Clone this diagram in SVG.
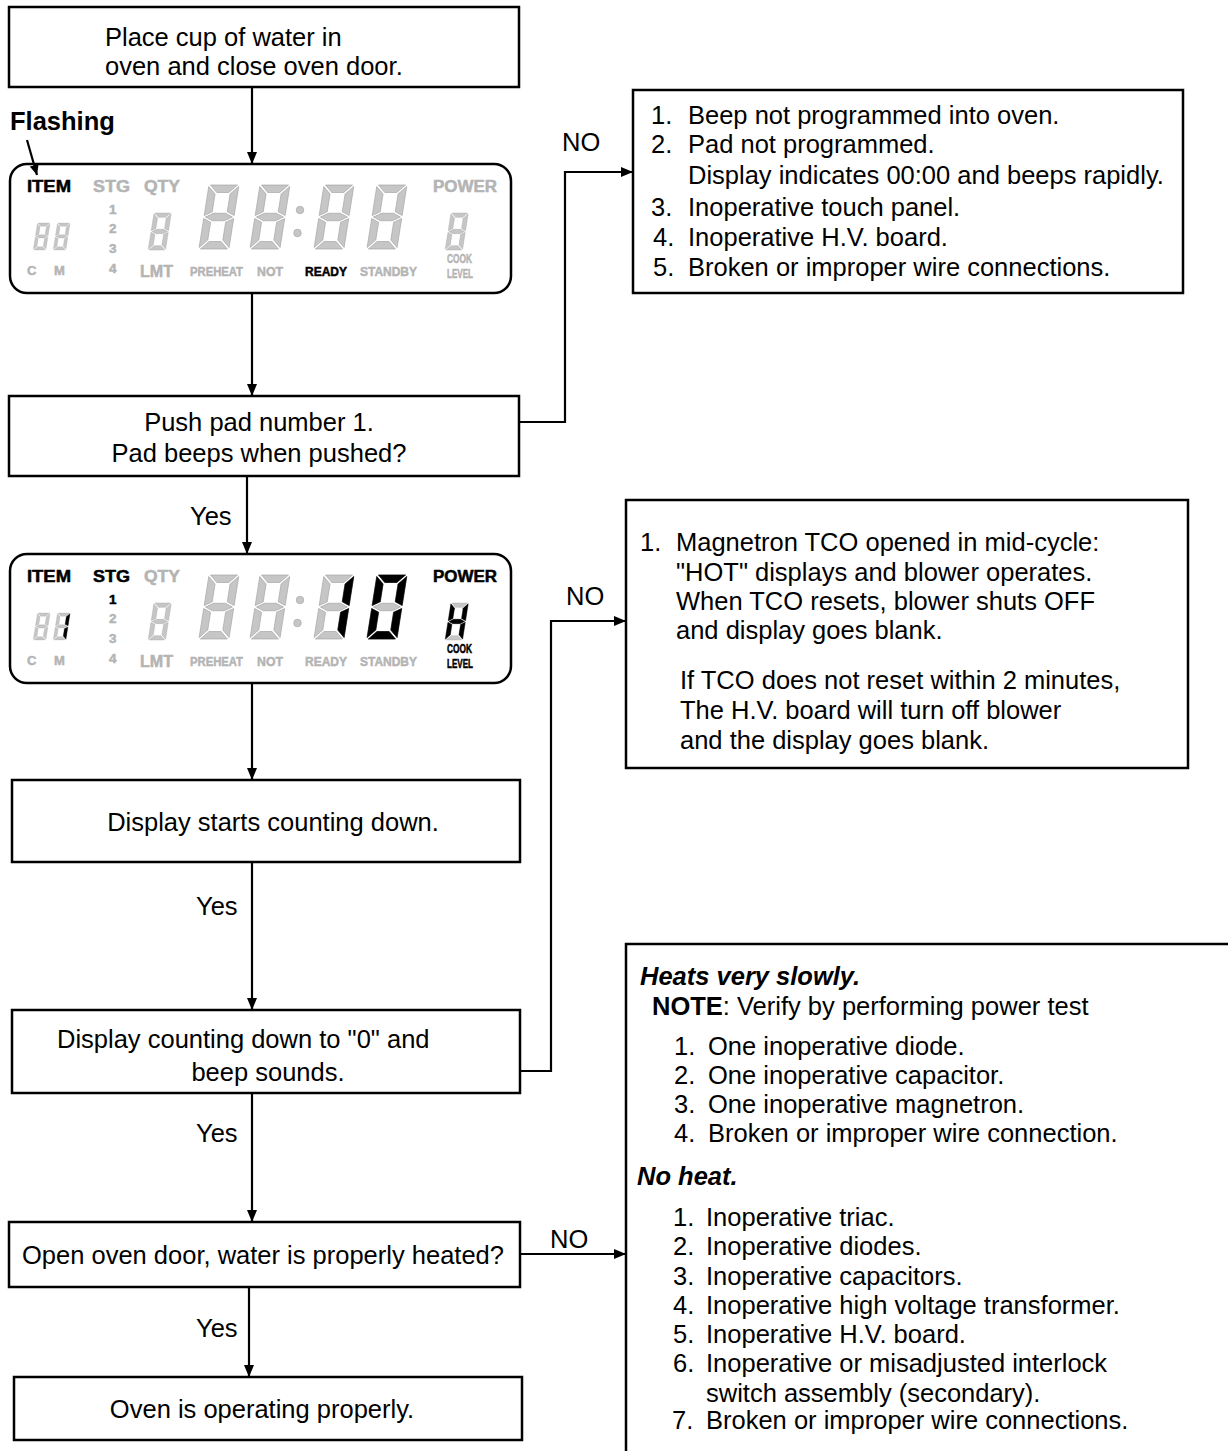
<svg xmlns="http://www.w3.org/2000/svg" xmlns:xlink="http://www.w3.org/1999/xlink" width="1228" height="1451" viewBox="0 0 1228 1451">
<style>
text{font-family:"Liberation Sans",Arial,Helvetica,sans-serif;fill:#000}
.t{font-size:25.5px}
.b{font-weight:bold}
.bi{font-weight:bold;font-style:italic}
.box{fill:#fff;stroke:#000;stroke-width:2.5}
.disp{fill:#fff;stroke:#000;stroke-width:2.5}
.con{fill:none;stroke:#000;stroke-width:2.2}
.lbl{font-weight:bold;stroke-width:0.5}
.g{fill:#b4b4b4;stroke:#b4b4b4}
.k{fill:#000;stroke:#000}
.off{fill:#c6c6c6;stroke:#a0a0a0;stroke-width:0.6}
.on{fill:#000;stroke:#000;stroke-width:0.6}
.dot{fill:#c6c6c6;stroke:#a0a0a0;stroke-width:0.6}
</style>
<defs>
<marker id="ah" viewBox="0 0 12 10" refX="12" refY="5" markerWidth="12" markerHeight="10" markerUnits="userSpaceOnUse" orient="auto"><path d="M0,0 L12,5 L0,10 z" fill="#000"/></marker>
<marker id="ahs" viewBox="0 0 10 9" refX="10" refY="4.5" markerWidth="10" markerHeight="9" markerUnits="userSpaceOnUse" orient="auto"><path d="M0,0 L10,4.5 L0,9 z" fill="#000"/></marker>
<polygon id="sa" points="1.5,0 28.5,0 21,7.5 9,7.5"/>
<polygon id="sb" points="30,1.5 30,30.5 22.5,26.75 22.5,9"/>
<polygon id="sc" points="30,33.5 30,62.5 22.5,55 22.5,37.25"/>
<polygon id="sd" points="1.5,64 28.5,64 21,56.5 9,56.5"/>
<polygon id="se" points="0,33.5 0,62.5 7.5,55 7.5,37.25"/>
<polygon id="sf" points="0,1.5 0,30.5 7.5,26.75 7.5,9"/>
<polygon id="sg" points="1.5,32 9,28.25 21,28.25 28.5,32 21,35.75 9,35.75"/>
<g id="d8"><use href="#sa"/><use href="#sb"/><use href="#sc"/><use href="#sd"/><use href="#se"/><use href="#sf"/><use href="#sg"/></g>
<g id="panel">
<rect class="disp" x="10" y="0" width="501" height="129" rx="17"/>
<use href="#d8" class="off" transform="translate(37.5,59) scale(0.42) skewX(-9)"/>
<use href="#d8" class="off" transform="translate(57.5,59) scale(0.42) skewX(-9)"/>
<use href="#d8" class="off" transform="translate(154,49) scale(0.578) skewX(-9)"/>
<use href="#d8" class="off" transform="translate(209,21) skewX(-9)"/>
<use href="#d8" class="off" transform="translate(260,21) skewX(-9)"/>
<use href="#d8" class="off" transform="translate(324,21) skewX(-9)"/>
<use href="#d8" class="off" transform="translate(377,21) skewX(-9)"/>
<use href="#d8" class="off" transform="translate(451,49) scale(0.578) skewX(-9)"/>
<circle class="dot" cx="300" cy="46" r="3.8"/>
<circle class="dot" cx="297.5" cy="69" r="3.8"/>
</g>
</defs>

<g id="n1"><rect class="box" x="9" y="7" width="510" height="80"/>
<text class="t" x="105" y="46">Place cup of water in</text>
<text class="t" x="105" y="75">oven and close oven door.</text></g>

<g id="flashing"><text class="t b" x="10" y="130" font-size="24">Flashing</text></g>

<g id="disp1" transform="translate(0,164)">
<use href="#panel"/>
<text class="lbl k" x="27" y="28" font-size="16" textLength="44" lengthAdjust="spacingAndGlyphs">ITEM</text>
<text class="lbl g" x="93" y="28" font-size="16" textLength="37" lengthAdjust="spacingAndGlyphs">STG</text>
<text class="lbl g" x="144" y="28" font-size="16" textLength="36" lengthAdjust="spacingAndGlyphs">QTY</text>
<text class="lbl g" x="433" y="28" font-size="16" textLength="64" lengthAdjust="spacingAndGlyphs">POWER</text>
<text class="lbl g" x="109" y="50" font-size="13.5">1</text>
<text class="lbl g" x="109" y="69" font-size="13.5">2</text>
<text class="lbl g" x="109" y="89" font-size="13.5">3</text>
<text class="lbl g" x="109" y="109" font-size="13.5">4</text>
<text class="lbl g" x="27" y="111" font-size="13">C</text>
<text class="lbl g" x="54" y="111" font-size="13">M</text>
<text class="lbl g" x="140" y="113" font-size="16" textLength="33" lengthAdjust="spacingAndGlyphs">LMT</text>
<text class="lbl g" x="190" y="112" font-size="13" textLength="53" lengthAdjust="spacingAndGlyphs">PREHEAT</text>
<text class="lbl g" x="257" y="112" font-size="13" textLength="26" lengthAdjust="spacingAndGlyphs">NOT</text>
<text class="lbl k" x="305" y="112" font-size="13" textLength="42" lengthAdjust="spacingAndGlyphs">READY</text>
<text class="lbl g" x="360" y="112" font-size="13" textLength="57" lengthAdjust="spacingAndGlyphs">STANDBY</text>
<text class="lbl g" x="447" y="99" font-size="12" textLength="25" lengthAdjust="spacingAndGlyphs">COOK</text>
<text class="lbl g" x="447" y="114" font-size="12" textLength="26" lengthAdjust="spacingAndGlyphs">LEVEL</text>
</g>

<g id="n2"><rect class="box" x="9" y="396" width="510" height="80"/>
<text class="t" x="259" y="431" text-anchor="middle">Push pad number 1.</text>
<text class="t" x="259" y="462" text-anchor="middle">Pad beeps when pushed?</text></g>

<g id="r1"><rect class="box" x="633" y="90" width="550" height="203"/>
<text class="t" x="651" y="124">1.</text><text class="t" x="688" y="124">Beep not programmed into oven.</text>
<text class="t" x="651" y="153">2.</text><text class="t" x="688" y="153">Pad not programmed.</text>
<text class="t" x="688" y="184">Display indicates 00:00 and beeps rapidly.</text>
<text class="t" x="651" y="216">3.</text><text class="t" x="688" y="216">Inoperative touch panel.</text>
<text class="t" x="653" y="246">4.</text><text class="t" x="688" y="246">Inoperative H.V. board.</text>
<text class="t" x="653" y="276">5.</text><text class="t" x="688" y="276">Broken or improper wire connections.</text></g>

<g id="disp2" transform="translate(0,554)">
<use href="#panel"/>
<use href="#sb" class="on" transform="translate(57.5,59) scale(0.42) skewX(-9)"/>
<use href="#sc" class="on" transform="translate(57.5,59) scale(0.42) skewX(-9)"/>
<use href="#sb" class="on" transform="translate(324,21) skewX(-9)"/>
<use href="#sc" class="on" transform="translate(324,21) skewX(-9)"/>
<g class="on" transform="translate(377,21) skewX(-9)"><use href="#sa"/><use href="#sb"/><use href="#sc"/><use href="#sd"/><use href="#se"/><use href="#sf"/></g>
<g class="on" transform="translate(451,49) scale(0.578) skewX(-9)"><use href="#sb"/><use href="#sc"/><use href="#se"/><use href="#sf"/><use href="#sg"/></g>
<text class="lbl k" x="27" y="28" font-size="16" textLength="44" lengthAdjust="spacingAndGlyphs">ITEM</text>
<text class="lbl k" x="93" y="28" font-size="16" textLength="37" lengthAdjust="spacingAndGlyphs">STG</text>
<text class="lbl g" x="144" y="28" font-size="16" textLength="36" lengthAdjust="spacingAndGlyphs">QTY</text>
<text class="lbl k" x="433" y="28" font-size="16" textLength="64" lengthAdjust="spacingAndGlyphs">POWER</text>
<text class="lbl k" x="109" y="50" font-size="13.5">1</text>
<text class="lbl g" x="109" y="69" font-size="13.5">2</text>
<text class="lbl g" x="109" y="89" font-size="13.5">3</text>
<text class="lbl g" x="109" y="109" font-size="13.5">4</text>
<text class="lbl g" x="27" y="111" font-size="13">C</text>
<text class="lbl g" x="54" y="111" font-size="13">M</text>
<text class="lbl g" x="140" y="113" font-size="16" textLength="33" lengthAdjust="spacingAndGlyphs">LMT</text>
<text class="lbl g" x="190" y="112" font-size="13" textLength="53" lengthAdjust="spacingAndGlyphs">PREHEAT</text>
<text class="lbl g" x="257" y="112" font-size="13" textLength="26" lengthAdjust="spacingAndGlyphs">NOT</text>
<text class="lbl g" x="305" y="112" font-size="13" textLength="42" lengthAdjust="spacingAndGlyphs">READY</text>
<text class="lbl g" x="360" y="112" font-size="13" textLength="57" lengthAdjust="spacingAndGlyphs">STANDBY</text>
<text class="lbl k" x="447" y="99" font-size="12" textLength="25" lengthAdjust="spacingAndGlyphs">COOK</text>
<text class="lbl k" x="447" y="114" font-size="12" textLength="26" lengthAdjust="spacingAndGlyphs">LEVEL</text>
</g>

<g id="r2"><rect class="box" x="626" y="500" width="562" height="268"/>
<text class="t" x="640" y="551">1.</text><text class="t" x="676" y="551">Magnetron TCO opened in mid-cycle:</text>
<text class="t" x="676" y="581">"HOT" displays and blower operates.</text>
<text class="t" x="676" y="610">When TCO resets, blower shuts OFF</text>
<text class="t" x="676" y="639">and display goes blank.</text>
<text class="t" x="680" y="689">If TCO does not reset within 2 minutes,</text>
<text class="t" x="680" y="719">The H.V. board will turn off blower</text>
<text class="t" x="680" y="749">and the display goes blank.</text></g>

<g id="n3"><rect class="box" x="12" y="780" width="508" height="82"/>
<text class="t" x="273" y="831" text-anchor="middle">Display starts counting down.</text></g>

<g id="n4"><rect class="box" x="12" y="1010" width="508" height="83"/>
<text class="t" x="57" y="1048">Display counting down to "0" and</text>
<text class="t" x="268" y="1081" text-anchor="middle">beep sounds.</text></g>

<g id="n5"><rect class="box" x="9" y="1222" width="511" height="65"/>
<text class="t" x="22" y="1264">Open oven door, water is properly heated?</text></g>

<g id="n6"><rect class="box" x="14" y="1377" width="508" height="63"/>
<text class="t" x="262" y="1418" text-anchor="middle">Oven is operating properly.</text></g>

<g id="r3"><path d="M626,1451 V944 H1228" fill="none" stroke="#000" stroke-width="2.5"/>
<text class="t bi" x="640" y="985">Heats very slowly.</text>
<text class="t" x="652" y="1015"><tspan class="b">NOTE</tspan>: Verify by performing power test</text>
<text class="t" x="674" y="1055">1.</text><text class="t" x="708" y="1055">One inoperative diode.</text>
<text class="t" x="674" y="1084">2.</text><text class="t" x="708" y="1084">One inoperative capacitor.</text>
<text class="t" x="674" y="1113">3.</text><text class="t" x="708" y="1113">One inoperative magnetron.</text>
<text class="t" x="674" y="1142">4.</text><text class="t" x="708" y="1142">Broken or improper wire connection.</text>
<text class="t bi" x="637" y="1185">No heat.</text>
<text class="t" x="673" y="1226">1.</text><text class="t" x="706" y="1226">Inoperative triac.</text>
<text class="t" x="673" y="1255">2.</text><text class="t" x="706" y="1255">Inoperative diodes.</text>
<text class="t" x="673" y="1285">3.</text><text class="t" x="706" y="1285">Inoperative capacitors.</text>
<text class="t" x="673" y="1314">4.</text><text class="t" x="706" y="1314">Inoperative high voltage transformer.</text>
<text class="t" x="673" y="1343">5.</text><text class="t" x="706" y="1343">Inoperative H.V. board.</text>
<text class="t" x="673" y="1372">6.</text><text class="t" x="706" y="1372">Inoperative or misadjusted interlock</text>
<text class="t" x="706" y="1402">switch assembly (secondary).</text>
<text class="t" x="672" y="1429">7.</text><text class="t" x="706" y="1429">Broken or improper wire connections.</text></g>

<g id="connectors">
<line class="con" x1="27" y1="140" x2="37" y2="175" marker-end="url(#ahs)"/>
<line class="con" x1="252" y1="87" x2="252" y2="164" marker-end="url(#ah)"/>
<line class="con" x1="252" y1="293" x2="252" y2="396" marker-end="url(#ah)"/>
<polyline class="con" points="519,422 565,422 565,172 633,172" marker-end="url(#ah)"/>
<line class="con" x1="247" y1="476" x2="247" y2="554" marker-end="url(#ah)"/>
<line class="con" x1="252" y1="683" x2="252" y2="780" marker-end="url(#ah)"/>
<line class="con" x1="252" y1="862" x2="252" y2="1010" marker-end="url(#ah)"/>
<polyline class="con" points="520,1071 551,1071 551,621 626,621" marker-end="url(#ah)"/>
<line class="con" x1="252" y1="1093" x2="252" y2="1222" marker-end="url(#ah)"/>
<line class="con" x1="520" y1="1254" x2="626" y2="1254" marker-end="url(#ah)"/>
<line class="con" x1="249" y1="1287" x2="249" y2="1377" marker-end="url(#ah)"/>
<text class="t" x="562" y="151">NO</text>
<text class="t" x="566" y="605">NO</text>
<text class="t" x="550" y="1248">NO</text>
<text class="t" x="190" y="525">Yes</text>
<text class="t" x="196" y="915">Yes</text>
<text class="t" x="196" y="1142">Yes</text>
<text class="t" x="196" y="1337">Yes</text>
</g>
</svg>
